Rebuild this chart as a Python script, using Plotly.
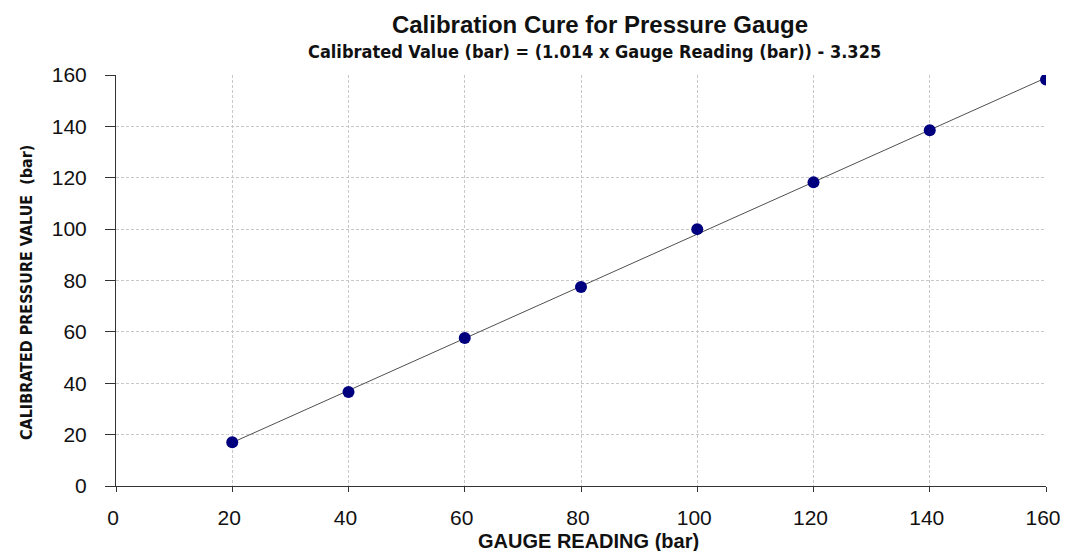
import plotly.graph_objects as go

gauge_reading = [20, 40, 60, 80, 100, 120, 140, 160]
calibrated_value = [17.0, 36.6, 57.6, 77.5, 100.0, 118.2, 138.5, 158.2]
trend_x = [20, 160]
trend_y = [16.9, 158.9]
tick_vals = [0, 20, 40, 60, 80, 100, 120, 140, 160]

ARIAL = "Liberation Sans, Arial, sans-serif"
NARROW = "Liberation Sans Narrow, DejaVu Sans Condensed, Arial Narrow, sans-serif"

# page body has an 8px margin; figure coords = page coords - 8
OFF = 8
W, H = 1081 - 2 * OFF, 551 - OFF

fig = go.Figure()
fig.add_trace(go.Scatter(x=trend_x, y=trend_y, mode="lines",
                         line=dict(color="#505050", width=1), hoverinfo="skip",
                         showlegend=False))
fig.add_trace(go.Scatter(x=gauge_reading, y=calibrated_value, mode="markers",
                         marker=dict(color="#00007f", size=12, line=dict(width=0)),
                         showlegend=False))

axis_common = dict(
    range=[0, 160], tickvals=tick_vals, showgrid=True,
    gridcolor="#c8c8c8", gridwidth=1, griddash="3px,2px",
    showline=True, linecolor="#333333", linewidth=1,
    zeroline=False, ticks="outside", tickcolor="#333333",
    tickfont=dict(family=ARIAL, size=21, color="#111111"),
)

fig.update_layout(
    width=W, height=H,
    margin=dict(l=116 - OFF, r=W + OFF - 1057, t=75 - OFF, b=65),
    paper_bgcolor="white", plot_bgcolor="white",
    title=dict(text="<b>Calibration Cure for Pressure Gauge</b>",
               x=(600 - OFF) / W, xanchor="center", y=1 - (25 - OFF) / H, yanchor="middle",
               font=dict(family=ARIAL, size=24, color="#111111")),
    xaxis=dict(**axis_common, ticklen=5, ticklabelstandoff=8, ticklabelshift=-3),
    yaxis=dict(**axis_common, ticklen=10, ticklabelstandoff=14),
    annotations=[
        dict(text="<b>Calibrated Value (bar) = (1.014 x Gauge Reading (bar)) - 3.325</b>",
             xref="paper", yref="paper", x=(600 - 116) / 941, y=(486 - 51) / 411,
             xanchor="center", yanchor="middle", showarrow=False,
             font=dict(family=NARROW, size=18, color="#111111")),
        dict(text="<b>GAUGE READING (bar)</b>",
             xref="paper", yref="paper", x=(594 - 116) / 941, y=(486 - 541) / 411,
             xanchor="center", yanchor="middle", showarrow=False,
             font=dict(family=ARIAL, size=20, color="#111111")),
        dict(text="<b>CALIBRATED PRESSURE VALUE  (bar)</b>",
             xref="paper", yref="paper", x=(25 - 116) / 941, y=(486 - 292) / 411,
             xanchor="center", yanchor="middle", showarrow=False, textangle=-90,
             font=dict(family=NARROW, size=16, color="#111111")),
    ],
)

fig.write_html("out.html")
